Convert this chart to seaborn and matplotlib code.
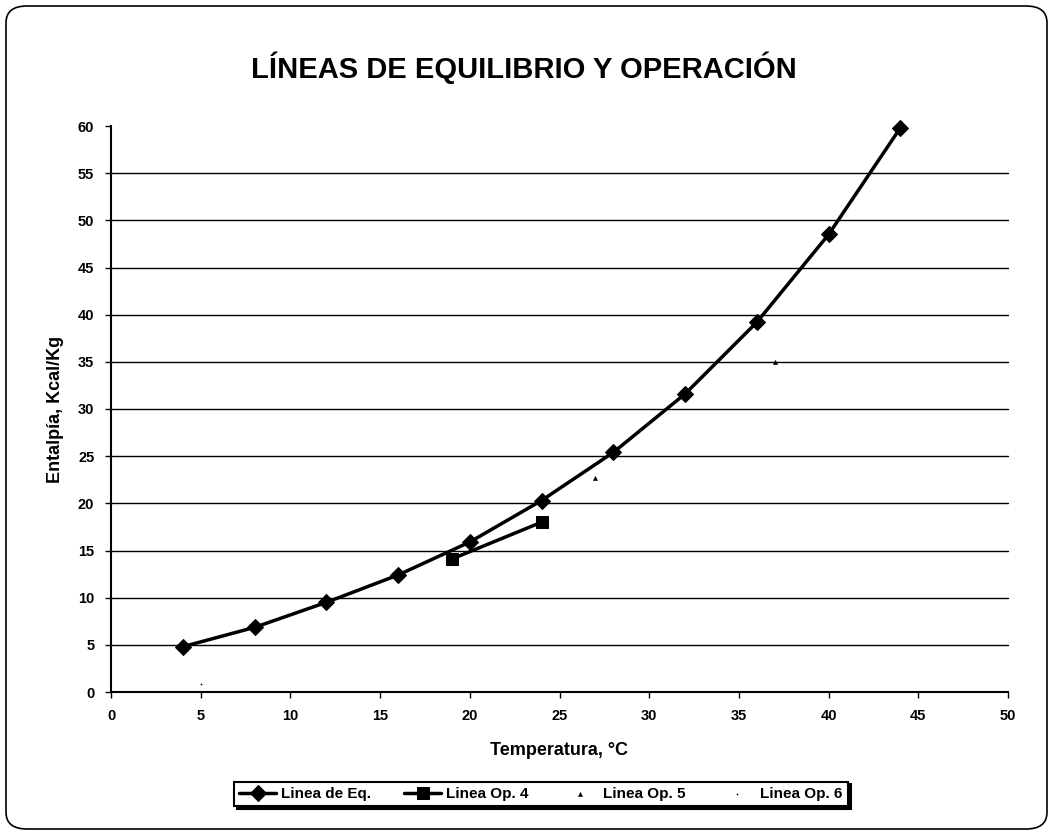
import numpy as np
import pandas as pd
import matplotlib
matplotlib.use("Agg")
import matplotlib.pyplot as plt
import seaborn as sns
from matplotlib.patches import FancyBboxPatch

# ---- data ----
eq_temp = [4, 8, 12, 16, 20, 24, 28, 32, 36, 40, 44]
eq_enth = [4.8, 6.85, 9.5, 12.4, 15.9, 20.3, 25.4, 31.6, 39.2, 48.5, 59.8]
op4_temp = [19, 24]
op4_enth = [14.1, 18.0]
op5_temp = [27, 37]
op5_enth = [22.7, 35.0]
op6_temp = [5]
op6_enth = [0.8]
x_ticks = list(range(0, 55, 5))
y_ticks = list(range(0, 65, 5))

sns.set_theme(style="white")
plt.rcParams['font.family'] = ['Liberation Sans', 'DejaVu Sans']
plt.rcParams['font.weight'] = 'bold'
plt.rcParams['text.color'] = 'black'
plt.rcParams['axes.labelcolor'] = 'black'

fig = plt.figure(figsize=(10.53, 8.35), dpi=100)
ax = fig.add_axes([111/1053, 1 - 692/835, (1008-111)/1053, (692-126)/835])

for yv in y_ticks[1:-1]:
    ax.axhline(yv, color='black', lw=1.0, zorder=1)

sns.lineplot(x=eq_temp, y=eq_enth, ax=ax, color='black', lw=2.5, marker='D',
             markersize=8, markeredgecolor='black', label='Linea de Eq.', zorder=3)
sns.lineplot(x=op4_temp, y=op4_enth, ax=ax, color='black', lw=2.5, marker='s',
             markersize=8, markeredgecolor='black', label='Linea Op. 4', zorder=3)
sns.scatterplot(x=op5_temp, y=op5_enth, ax=ax, color='black', marker='^', s=10,
                edgecolor='black', label='Linea Op. 5', zorder=3)
sns.scatterplot(x=op6_temp, y=op6_enth, ax=ax, color='black', marker='.', s=4,
                edgecolor='black', label='Linea Op. 6', zorder=3)
for ln in ax.lines:
    ln.set_clip_on(False)

ax.set_xlim(0, 50)
ax.set_ylim(0, 60)
ax.set_xticks(x_ticks)
ax.set_yticks(y_ticks)
ax.tick_params(axis='both', which='both', direction='out', length=4, width=1,
               colors='black', labelsize=10.5, bottom=True, left=True, pad=8)
for lab in ax.get_xticklabels() + ax.get_yticklabels():
    lab.set_fontweight('bold')
for s in ['top', 'right']:
    ax.spines[s].set_visible(False)
for s in ['left', 'bottom']:
    ax.spines[s].set_color('black')
    ax.spines[s].set_linewidth(1.5)

ax.set_xlabel('Temperatura, °C', fontsize=13, fontweight='bold', labelpad=14)
ax.set_ylabel('Entalpía, Kcal/Kg', fontsize=13, fontweight='bold', labelpad=10)

fig.text(524/1053, 1 - 68/835, 'LÍNEAS DE EQUILIBRIO Y OPERACIÓN',
         ha='center', va='center', fontsize=21, fontweight='bold')

leg = ax.legend(loc='center', bbox_to_anchor=((541 - 111)/897, -(794 - 692)/566),
                ncol=4, frameon=True, fancybox=False,
                shadow={'color': 'black', 'alpha': 1},
                fontsize=11, handlelength=2.4, columnspacing=2.2, handletextpad=0.3,
                borderpad=0.35)
leg.get_frame().set_edgecolor('black')
leg.get_frame().set_linewidth(1.5)
for t in leg.get_texts():
    t.set_fontweight('bold')

border = FancyBboxPatch((6/1053, 6/835), 1 - 12/1053, 1 - 12/835,
                        boxstyle='round,pad=0,rounding_size=0.02',
                        transform=fig.transFigure, fill=False,
                        edgecolor='black', lw=1.2)
fig.patches.append(border)

fig.savefig('out.png', dpi=100)
